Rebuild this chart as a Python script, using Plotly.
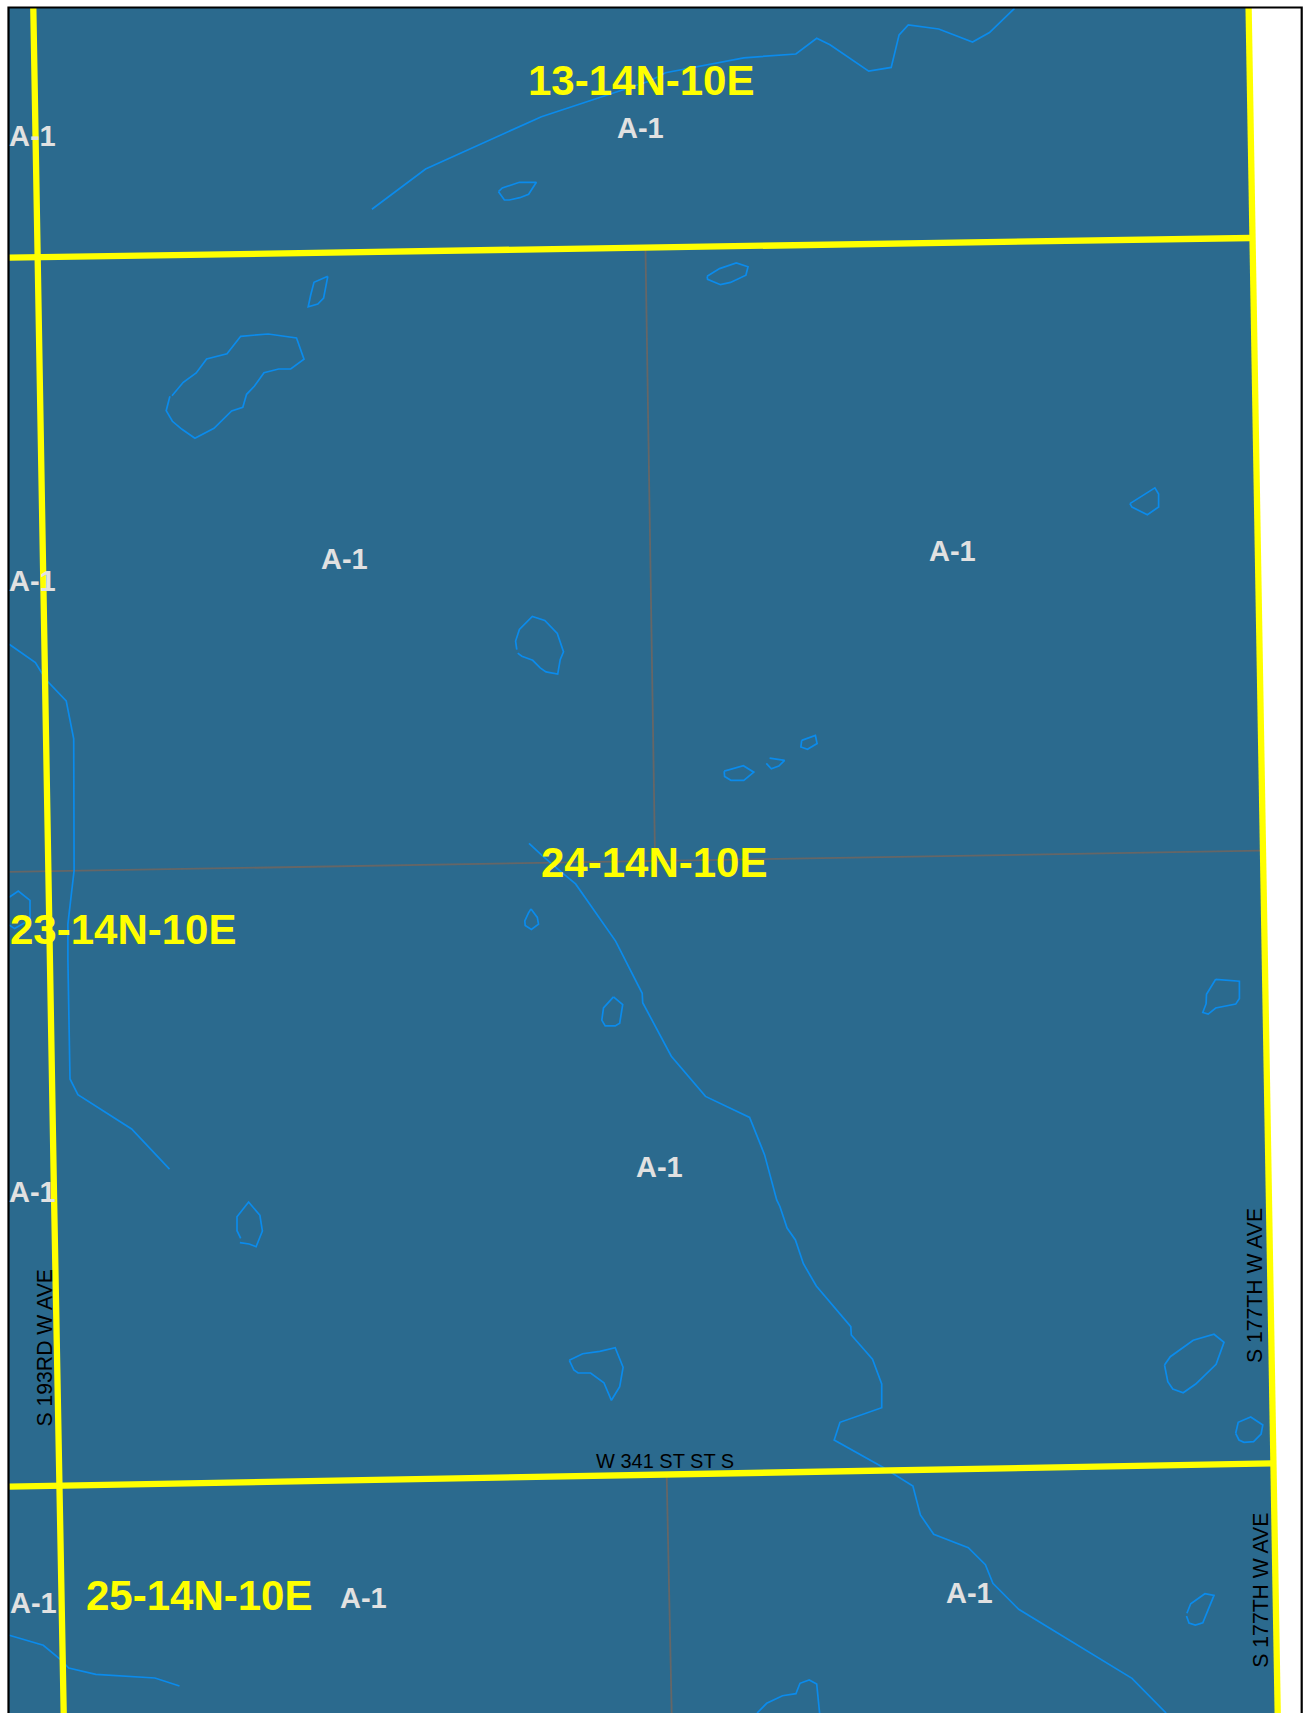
import plotly.graph_objects as go

# ---- map geometry (map units, one unit = one pixel of the sheet) ----
land_x = [9, 1248.6, 1259, 1269.4, 1277.7, 9]
land_y = [8, 8, 600, 1200, 1713, 1713]

frame_x = [8.5, 8.5, 1301.7, 1301.7]
frame_y = [1713, 7.5, 7.5, 1713]

# major section roads (yellow)
road_w_x = [33.3, 41.6, 54.1, 63.7]
road_w_y = [8, 500, 1200, 1713]
road_e_x = [1248.6, 1259, 1269.4, 1277.7]
road_e_y = [8, 600, 1200, 1713]
road_n_x = [9.2, 1250.6]
road_n_y = [257.7, 238]
road_s_x = [9.2, 1273.6]
road_s_y = [1486.7, 1463.3]

# quarter-section lines (grey)
grey1_x = [645.5, 655]
grey1_y = [250, 856]
grey2_x = [666.7, 671.7]
grey2_y = [1476.7, 1713]
grey3_x = [9.2, 1260]
grey3_y = [871.9, 850.7]

# streams (blue)
stream_a_x = [371.9, 425.6, 541.4, 649.7, 665.5, 743.8, 795.9, 816.7, 830, 868.7, 891.2, 899.1, 908.3, 938.7, 972.5, 989.5, 1014.5]
stream_a_y = [209.3, 169, 116.7, 81, 72.7, 57.8, 54, 38.3, 44.8, 71.2, 67.4, 34.8, 24.9, 29, 42, 32.5, 8.4]
stream_b_x = [9.2, 35.4, 45.8, 66.2, 73.7, 74.1, 67.9, 67.9, 70, 77.9, 131.6, 169.5]
stream_b_y = [644.2, 662.5, 679.5, 700.9, 738.8, 870.5, 924.1, 959.8, 1079, 1094.6, 1129, 1169.2]
stream_c_x = [529, 541.4, 562.3, 575.6, 615.6, 642.2, 642.7, 653, 671.3, 705.5, 749.6, 764.6, 776.7, 780, 787.1, 795.4, 803.4, 816.3, 850.8, 851.3, 872.5, 881.7, 881.7, 840, 834.2, 882.9, 912.9, 920.4, 933.7, 968.3, 985.4, 992.9, 1018.7, 1132, 1166.1]
stream_c_y = [843.3, 854.9, 872.8, 883.9, 941.1, 993.3, 1002.7, 1022.3, 1056.2, 1096.4, 1117.4, 1154.9, 1200, 1206.7, 1228, 1240, 1263.7, 1286, 1326.7, 1335, 1359.3, 1384, 1407.7, 1422.3, 1440, 1467.3, 1486, 1515, 1534.3, 1547.7, 1564.7, 1583.3, 1609.3, 1678.3, 1713]
stream_d_x = [9.2, 43.3, 61.2, 68.7, 95.8, 154.9, 179.5]
stream_d_y = [1635.3, 1645.3, 1660, 1668, 1674.3, 1678, 1686]

# ponds (blue outlines)
pond1_x = [498.5, 502.3, 519.4, 536.4, 528.6, 519.8, 509.4, 504.4, 498.5]
pond1_y = [191.7, 188, 182.3, 182.3, 194.3, 197.7, 200, 200, 191.7]
pond2_x = [327.8, 314, 310.7, 308.2, 317.8, 323.6, 327.8]
pond2_y = [276.3, 282.3, 295, 306.7, 304, 298, 276.3]
pond3_x = [172, 183.3, 196.2, 206.6, 227, 240.7, 268.2, 296.5, 304, 290.7, 278.6, 264, 254.5, 246.6, 242.8, 231.6, 214, 194.9, 182, 172.4, 166.2, 169.9]
pond3_y = [395.7, 382.3, 373, 359, 353.7, 336.3, 334, 338, 359.3, 369, 369, 372.7, 386, 394.3, 407.3, 411, 428.3, 438.3, 429.3, 421.3, 410.7, 396.3]
pond4_x = [707.1, 719.6, 736.3, 748, 745.9, 730.5, 720.5, 707.6, 707.1]
pond4_y = [276.3, 268.6, 262.9, 266.7, 275.2, 282.4, 284.7, 279.4, 276.3]
pond5_x = [1129.9, 1154.9, 1158.6, 1158.6, 1147.4, 1132, 1129.9]
pond5_y = [503.6, 487.9, 494, 507, 514.7, 507.1, 503.6]
pond6_x = [516.8, 515.6, 519.4, 532.3, 544.8, 557.3, 563.5, 560.2, 557.7, 546, 540.2, 532.7, 521.9, 517.7]
pond6_y = [649.6, 641.1, 629.5, 616.5, 620.5, 633.5, 651.8, 659.8, 674.1, 671.9, 667.9, 660.3, 656.3, 653.1]
pond7_x = [724.2, 743.4, 753.8, 743.8, 730.9, 724.6, 724.2]
pond7_y = [771.1, 765.7, 772.2, 780.3, 780.3, 776.4, 771.1]
pond8_x = [769.6, 784.6, 778.8, 771.3, 766.3]
pond8_y = [758.1, 760.4, 766.1, 768.8, 763.4]
pond9_x = [801.7, 815.4, 817.1, 807.5, 800.9, 801.7]
pond9_y = [740.4, 735.5, 743.5, 749.3, 747, 740.4]
pond10_x = [1215.7, 1239.4, 1239.4, 1235.7, 1215.7, 1208.2, 1202.8, 1206.1, 1206.5, 1215.7]
pond10_y = [979.3, 981.2, 998.4, 1004.1, 1008, 1014.1, 1012.5, 1003.7, 994.2, 979.3]
pond11_x = [9.2, 18.3, 30, 30, 14.6, 9.2]
pond11_y = [897.3, 891, 900.4, 919.8, 928.6, 925]
pond12_x = [531, 537.3, 538.5, 531.4, 525.2, 524.8, 528.5, 531]
pond12_y = [908.9, 917.4, 924.1, 929.5, 925.4, 921, 912.9, 908.9]
pond13_x = [613.5, 622.7, 619.7, 615.2, 605.2, 601.8, 603.5, 613.5]
pond13_y = [996.9, 1004.5, 1023.2, 1025.9, 1025.9, 1020.1, 1008, 996.9]
pond14_x = [1164.5, 1170.3, 1193.2, 1214, 1224, 1216.1, 1195.7, 1183.2, 1172.8, 1167.8, 1164.5]
pond14_y = [1365, 1356.7, 1340.3, 1334.3, 1342.3, 1364.3, 1384, 1392.7, 1389, 1381.7, 1365]
pond15_x = [1235.7, 1238.2, 1250.7, 1262.8, 1261.1, 1253.6, 1244, 1239, 1235.7]
pond15_y = [1433.3, 1422.3, 1417, 1425, 1434, 1441.7, 1442.3, 1440, 1433.3]
pond16_x = [1186.9, 1190.7, 1204.9, 1214, 1202.8, 1195.3, 1189, 1186.5]
pond16_y = [1613.3, 1603.7, 1593.7, 1595.3, 1622.7, 1625, 1623, 1616]
pond17_x = [757.1, 766.7, 782.5, 795.9, 800, 809.2, 816.7, 819.6]
pond17_y = [1713, 1703.3, 1695.7, 1693.7, 1683.3, 1680, 1684, 1713]
pond18_x = [240.7, 237, 237, 248.6, 259.9, 262.4, 256.1, 249.1, 239.9]
pond18_y = [1238.3, 1230.7, 1216.7, 1202, 1215.3, 1231, 1246.7, 1244, 1242.7]
pond19_x = [569.3, 582.7, 599.8, 615.2, 623.1, 619.7, 611.4, 603.9, 590.6, 578.1, 573.9, 569.3]
pond19_y = [1360.3, 1353.7, 1351.3, 1347.7, 1367.3, 1386.7, 1400.3, 1382.7, 1373, 1373, 1370, 1360.3]

# labels
section_labels = ["13-14N-10E", "24-14N-10E", "23-14N-10E", "25-14N-10E"]
section_x = [640.5, 654.2, 122.5, 199]
section_y = [80.8, 862, 929.7, 1595]

zone_labels = ["A-1"] * 10
zone_x = [32, 640, 344.5, 952.5, 32, 32, 659.5, 33.5, 363.5, 969]
zone_y = [135.5, 127.8, 559.4, 550.6, 581.2, 1191.9, 1166.8, 1602.7, 1598.4, 1592.9]

road_labels = ["W 341 ST ST S", "S 193RD W AVE", "S 177TH W AVE", "S 177TH W AVE"]
road_x = [665, 43.5, 1254, 1261]
road_y = [1460.7, 1348, 1286, 1590.7]
road_angle = [0, -90, -90, -90]
road_size = [20, 21.2, 21.2, 21.2]

LAND = "#2b6a8e"
BLUE = "#0b8bec"
GREY = "#666666"
YELLOW = "#ffff00"

fig = go.Figure()


def line(x, y, color, width):
    fig.add_trace(go.Scatter(x=x, y=y, mode="lines", hoverinfo="skip", showlegend=False,
                             line=dict(color=color, width=width)))


fig.add_trace(go.Scatter(x=land_x, y=land_y, mode="lines", fill="toself", fillcolor=LAND,
                         line=dict(width=0, color=LAND), hoverinfo="skip", showlegend=False))

for gx, gy in [(grey1_x, grey1_y), (grey2_x, grey2_y), (grey3_x, grey3_y)]:
    line(gx, gy, GREY, 1.8)

for sx, sy in [(stream_a_x, stream_a_y), (stream_b_x, stream_b_y), (stream_c_x, stream_c_y), (stream_d_x, stream_d_y),
               (pond1_x, pond1_y), (pond2_x, pond2_y), (pond3_x, pond3_y), (pond4_x, pond4_y), (pond5_x, pond5_y),
               (pond6_x, pond6_y), (pond7_x, pond7_y), (pond8_x, pond8_y), (pond9_x, pond9_y), (pond10_x, pond10_y),
               (pond11_x, pond11_y), (pond12_x, pond12_y), (pond13_x, pond13_y), (pond14_x, pond14_y),
               (pond15_x, pond15_y), (pond16_x, pond16_y), (pond17_x, pond17_y), (pond18_x, pond18_y),
               (pond19_x, pond19_y)]:
    line(sx, sy, BLUE, 1.7)

for rx, ry in [(road_w_x, road_w_y), (road_e_x, road_e_y), (road_n_x, road_n_y), (road_s_x, road_s_y)]:
    line(rx, ry, YELLOW, 6.3)

line(frame_x, frame_y, "#000000", 2.2)

FONT = "Liberation Sans"
for t, x, y in zip(zone_labels, zone_x, zone_y):
    fig.add_annotation(x=x, y=y, text=f"<b>{t}</b>", showarrow=False,
                       font=dict(family=FONT, size=29, color="#e1e1e1"))
for t, x, y in zip(section_labels, section_x, section_y):
    fig.add_annotation(x=x, y=y, text=f"<b>{t}</b>", showarrow=False,
                       font=dict(family=FONT, size=42, color=YELLOW))
for t, x, y, a, s in zip(road_labels, road_x, road_y, road_angle, road_size):
    fig.add_annotation(x=x, y=y, text=t, textangle=a, showarrow=False,
                       font=dict(family=FONT, size=s, color="#000000"))

fig.update_layout(
    width=1306, height=1713, margin=dict(l=0, r=0, t=0, b=0, pad=0),
    paper_bgcolor="#ffffff", plot_bgcolor="#ffffff", showlegend=False,
    xaxis=dict(range=[0, 1306], visible=False, fixedrange=True),
    yaxis=dict(range=[1713, 0], visible=False, fixedrange=True),
)

fig.write_html("out.html", config={"displayModeBar": False},
               post_script="document.body.style.margin='0';document.body.style.overflow='hidden';")
